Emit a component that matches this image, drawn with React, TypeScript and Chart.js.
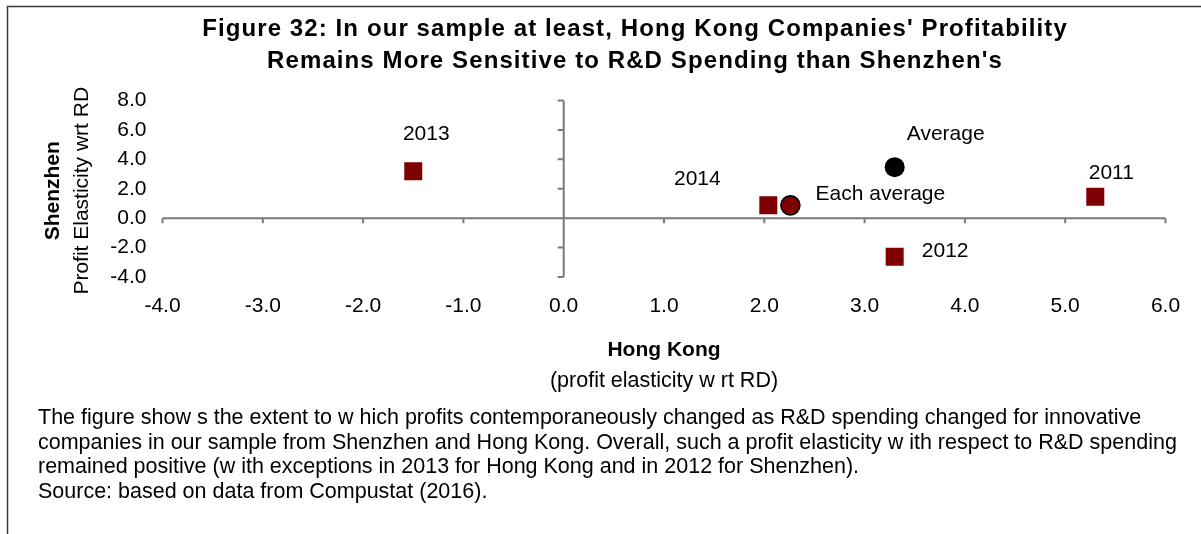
import React, { useEffect, useRef } from "react";
import { Chart, registerables } from "chart.js";

Chart.register(...registerables);

const FONT = "'Liberation Sans', Arial, Helvetica, sans-serif";

// ---- data ----
const yearLabels = ["2011", "2012", "2013", "2014"];
const hongKongByYear = [5.3, 3.3, -1.5, 2.04];
const shenzhenByYear = [1.45, -2.63, 3.19, 0.88];

const averageLabel = "Average";
const averageHongKong = [3.3];
const averageShenzhen = [3.47];

const eachAverageLabel = "Each average";
const eachAverageHongKong = [2.26];
const eachAverageShenzhen = [0.87];

const xTickValues = [-4, -3, -2, -1, 0, 1, 2, 3, 4, 5, 6];
const yTickValues = [-4, -2, 0, 2, 4, 6, 8];

const titleLines = [
  "Figure 32: In our sample at least, Hong Kong Companies' Profitability",
  "Remains More Sensitive to R&D Spending than Shenzhen's",
];
const xTitleBold = "Hong Kong";
const xTitleSub = "(profit elasticity w rt RD)";
const yTitleBold = "Shenzhen";
const yTitleSub = "Profit Elasticity wrt RD";
const noteLines = [
  "The figure show s the extent to w hich profits contemporaneously changed as R&D spending changed for innovative",
  "companies in our sample from Shenzhen and Hong Kong. Overall, such a profit elasticity w ith respect to R&D spending",
  "remained positive (w ith exceptions in 2013 for Hong Kong and in 2012 for Shenzhen).",
  "Source: based on data from Compustat (2016).",
];

// ---- label placement (px offsets from marker centre) ----
const yearLabelOffsets: [number, number][] = [
  [16, -23.5],
  [50.5, -6],
  [13, -37],
  [-71, -26],
];
const averageLabelOffset: [number, number] = [51, -33];
const eachAverageLabelOffset: [number, number] = [90, -11];

const W = 1201;
const H = 534;

const decorPlugin = {
  id: "decor",
  beforeDatasetsDraw(chart: any) {
    const ctx = chart.ctx as CanvasRenderingContext2D;
    const xs = chart.scales.x;
    const ys = chart.scales.y;
    const x0 = xs.getPixelForValue(0);
    const y0 = ys.getPixelForValue(0);
    ctx.save();
    ctx.strokeStyle = "#7a7a7a";
    ctx.lineWidth = 2;
    ctx.beginPath();
    ctx.moveTo(xs.left, y0);
    ctx.lineTo(xs.right, y0);
    xTickValues.forEach((v) => {
      const px = xs.getPixelForValue(v);
      ctx.moveTo(px, y0);
      ctx.lineTo(px, y0 + 5);
    });
    ctx.moveTo(x0, ys.top);
    ctx.lineTo(x0, ys.bottom);
    yTickValues.forEach((v) => {
      const py = ys.getPixelForValue(v);
      ctx.moveTo(x0 - 6, py);
      ctx.lineTo(x0, py);
    });
    ctx.stroke();
    ctx.restore();
  },
  afterDatasetsDraw(chart: any) {
    const ctx = chart.ctx as CanvasRenderingContext2D;
    ctx.save();
    ctx.fillStyle = "#000";
    ctx.textAlign = "center";
    ctx.textBaseline = "middle";
    ctx.font = `21px ${FONT}`;
    const m0 = chart.getDatasetMeta(0).data;
    yearLabels.forEach((lab, i) => {
      const el = m0[i];
      ctx.fillText(lab, el.x + yearLabelOffsets[i][0], el.y + yearLabelOffsets[i][1]);
    });
    const m1 = chart.getDatasetMeta(1).data[0];
    ctx.fillText(averageLabel, m1.x + averageLabelOffset[0], m1.y + averageLabelOffset[1]);
    const m2 = chart.getDatasetMeta(2).data[0];
    ctx.fillText(eachAverageLabel, m2.x + eachAverageLabelOffset[0], m2.y + eachAverageLabelOffset[1]);
    ctx.restore();
  },
  afterDraw(chart: any) {
    const ctx = chart.ctx as CanvasRenderingContext2D;
    const xs = chart.scales.x;
    const ca = chart.chartArea;
    ctx.save();
    // frame
    ctx.strokeStyle = "#3a3a3a";
    ctx.lineWidth = 1.5;
    ctx.beginPath();
    ctx.moveTo(7.5, H);
    ctx.lineTo(7.5, 6.5);
    ctx.lineTo(W, 6.5);
    ctx.stroke();

    ctx.fillStyle = "#000";
    ctx.textBaseline = "middle";
    ctx.textAlign = "center";
    // title
    ctx.font = `bold 24px ${FONT}`;
    (ctx as any).letterSpacing = "1.1px";
    ctx.fillText(titleLines[0], 635, 29);
    ctx.fillText(titleLines[1], 635, 61);
    (ctx as any).letterSpacing = "0px";

    // x axis title
    const cx = (xs.left + xs.right) / 2;
    ctx.font = `bold 21px ${FONT}`;
    ctx.fillText(xTitleBold, cx, 350);
    ctx.font = `21.5px ${FONT}`;
    ctx.fillText(xTitleSub, cx, 381);

    // y axis title
    const cy = (ca.top + ca.bottom) / 2 + 2;
    ctx.save();
    ctx.translate(53, cy);
    ctx.rotate(-Math.PI / 2);
    ctx.font = `bold 21px ${FONT}`;
    ctx.fillText(yTitleBold, 0, 0);
    ctx.restore();
    ctx.save();
    ctx.translate(82, cy);
    ctx.rotate(-Math.PI / 2);
    ctx.font = `21px ${FONT}`;
    ctx.fillText(yTitleSub, 0, 0);
    ctx.restore();

    // notes
    ctx.textAlign = "left";
    ctx.font = `21.5px ${FONT}`;
    const noteY = [418.5, 443, 467.5, 492];
    noteLines.forEach((t, i) => ctx.fillText(t, 38, noteY[i]));
    ctx.restore();
  },
};

export default function App() {
  const ref = useRef<HTMLCanvasElement | null>(null);
  useEffect(() => {
    if (!ref.current) return;
    const chart = new Chart(ref.current, {
      type: "scatter",
      data: {
        datasets: [
          {
            label: "Years",
            data: hongKongByYear.map((x, i) => ({ x, y: shenzhenByYear[i] })),
            pointStyle: "rect",
            pointRadius: 12.73,
            pointHoverRadius: 12.73,
            backgroundColor: "#7f0000",
            borderWidth: 0,
          },
          {
            label: averageLabel,
            data: averageHongKong.map((x, i) => ({ x, y: averageShenzhen[i] })),
            pointStyle: "circle",
            pointRadius: 10,
            pointHoverRadius: 10,
            backgroundColor: "#000",
            borderWidth: 0,
          },
          {
            label: eachAverageLabel,
            data: eachAverageHongKong.map((x, i) => ({ x, y: eachAverageShenzhen[i] })),
            pointStyle: "circle",
            pointRadius: 9.5,
            pointHoverRadius: 9.5,
            backgroundColor: "#7f0000",
            borderColor: "#000",
            borderWidth: 1.6,
          },
        ],
      },
      options: {
        responsive: false,
        animation: false,
        events: [],
        layout: { padding: { top: 100.5, right: W - 1165.5, bottom: 0, left: 0 } },
        plugins: {
          legend: { display: false },
          tooltip: { enabled: false },
          title: { display: false },
        },
        scales: {
          x: {
            type: "linear",
            position: "bottom",
            min: xTickValues[0],
            max: xTickValues[xTickValues.length - 1],
            grid: { display: false, drawTicks: false },
            border: { display: false },
            afterBuildTicks: (s: any) => {
              s.ticks = xTickValues.map((v) => ({ value: v }));
            },
            afterFit: (s: any) => {
              s.height = H - 277;
            },
            ticks: {
              autoSkip: false,
              maxRotation: 0,
              padding: 16.5,
              color: "#000",
              font: { family: FONT, size: 21 },
              callback: (v: any) => Number(v).toFixed(1),
            },
          },
          y: {
            type: "linear",
            position: "left",
            min: yTickValues[0],
            max: yTickValues[yTickValues.length - 1],
            grid: { display: false, drawTicks: false },
            border: { display: false },
            afterBuildTicks: (s: any) => {
              s.ticks = yTickValues.map((v) => ({ value: v }));
            },
            afterFit: (s: any) => {
              s.width = 162.5;
            },
            ticks: {
              autoSkip: false,
              padding: 16,
              color: "#000",
              font: { family: FONT, size: 21 },
              callback: (v: any) => Number(v).toFixed(1),
            },
          },
        },
      },
      plugins: [decorPlugin],
    } as any);
    return () => chart.destroy();
  }, []);
  return (
    <div style={{ position: "absolute", left: 0, top: 0, width: W, height: H, background: "#fff" }}>
      <canvas ref={ref} width={W} height={H} style={{ display: "block", width: W, height: H }} />
    </div>
  );
}
